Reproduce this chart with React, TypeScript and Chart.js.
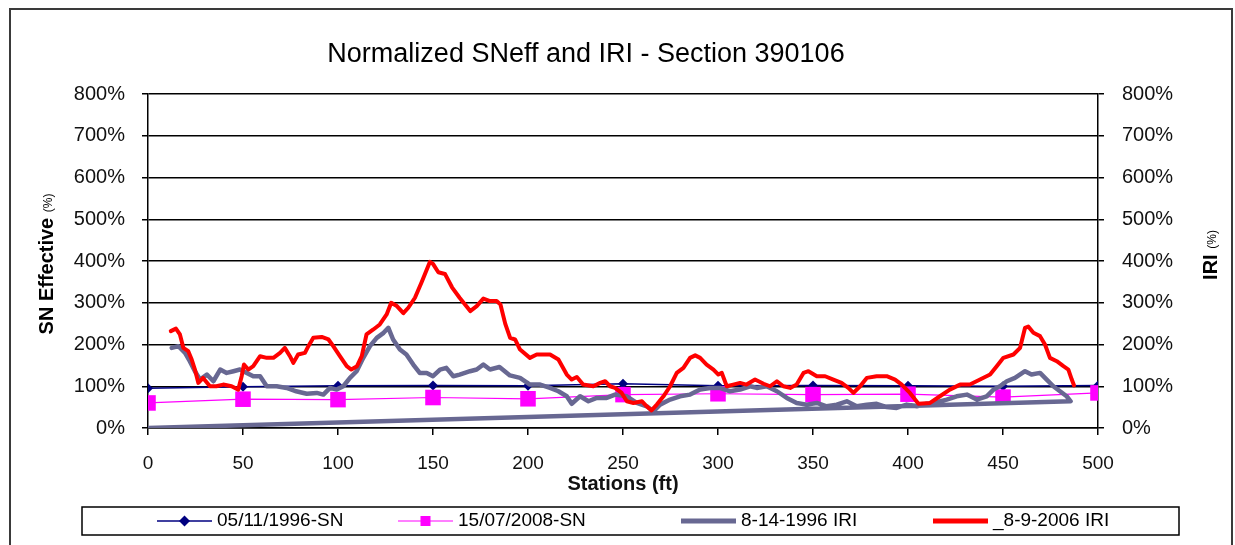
import React, { useEffect, useRef } from 'react';
import { Chart, registerables } from 'chart.js';

Chart.register(...registerables);

// ---------- text ----------
const chartTitle = 'Normalized SNeff and IRI - Section 390106';
const xAxisTitle = 'Stations (ft)';
const yLeftTitle = ['SN Effective ', '(%)'];
const yRightTitle = ['IRI ', '(%)'];
const seriesLabels = ['05/11/1996-SN', '15/07/2008-SN', '8-14-1996 IRI', '_8-9-2006 IRI'];

// ---------- axes ----------
const xMin = 0;
const xMax = 500;
const xStep = 50;
const yMin = 0;
const yMax = 800;
const yStep = 100;

// ---------- SN series (%), at stations ----------
const snStations = [0, 50, 100, 150, 200, 250, 300, 350, 400, 450, 500];
const sn1996Values = [95, 99, 101, 102, 101, 106, 101, 102, 101, 100, 102];
const sn2008Values = [60, 69, 68, 73, 70, 80, 82, 80, 81, 74, 84];

// ---------- IRI 1996 (%) ----------
const iri1996Stations = [
  12.5, 16, 19.5, 22, 24.7, 27.4, 31, 34.4, 38, 41.4, 45, 48.4, 52, 55.4, 59, 62.5, 67.7, 73, 78, 83.5,
  88.8, 92.3, 95.8, 99.3, 102.8, 106.3, 109.8, 113.3, 116.8, 120.4, 124, 126.5, 129, 132.6, 136, 139.6,
  143, 146.7, 150, 153.7, 157, 160.7, 164, 169.5, 173, 176.5, 180, 185, 190.5, 195.8, 201, 206.4, 211.6,
  216, 220.4, 223, 227.4, 231.8, 236.2, 241.4, 245.8, 252, 257.2, 262.5, 266, 269.5, 274.8, 280, 285.3,
  290.6, 295.8, 301, 306.3, 311.6, 316.9, 320.4, 325.6, 331, 336.2, 341.4, 346.7, 352, 357.2, 362.5,
  367.8, 373, 378.3, 383.5, 388.8, 394, 399.3, 404.6, 410, 413.3, 420.4, 425.6, 431, 436.2, 441.4, 445,
  448.4, 452, 456.3, 461.6, 465, 469.5, 473, 476.5, 480, 483.5, 485.6, 0,
];
const iri1996Values = [
  192, 196, 180, 160, 136, 116, 128, 112, 140, 132, 136, 140, 132, 124, 124, 100, 100, 96, 88, 82,
  84, 80, 96, 92, 100, 120, 136, 168, 196, 216, 228, 240, 212, 188, 176, 152,
  132, 132, 124, 140, 144, 124, 128, 136, 140, 152, 140, 146, 126, 120, 104, 104, 96,
  88, 76, 58, 76, 64, 72, 72, 80, 76, 60, 52, 40, 56, 68, 76, 80,
  92, 96, 96, 88, 92, 100, 96, 100, 88, 72, 60, 56, 60, 52, 56,
  64, 52, 56, 58, 50, 48, 56, 52, 58, 60, 68, 76, 80, 68, 76, 92,
  100, 112, 120, 136, 128, 132, 116, 100, 88, 76, 64, 0,
];

// ---------- IRI 2006 (%) ----------
const iri2006Stations = [
  12, 14.7, 16.8, 18.6, 21.2, 23, 24.7, 26.5, 29, 32.6, 36, 39.6, 44, 47.5, 49.3, 50.5, 52.8, 55.4, 59,
  62.5, 66, 69.5, 72, 74.7, 76.5, 79, 82.6, 84.4, 87, 91.4, 95, 97.5, 101, 104.6, 107, 110, 112.5, 115,
  118.6, 122, 125.6, 128, 131, 134.4, 137, 140.5, 144, 148.4, 150, 152.8, 156.3, 160, 164, 169.6, 173,
  176.5, 180, 183.5, 185.5, 188, 190.6, 193.2, 195.8, 201, 204.6, 211.6, 216, 220.4, 223, 225.7, 229,
  234.4, 238, 240.6, 243.2, 245.8, 249.3, 252, 255.5, 260, 262.5, 265, 267.8, 271.3, 274.8, 278.3, 281.8,
  285.3, 288, 290.6, 294, 297.6, 300.2, 302, 304.6, 308, 311.6, 315, 319.5, 324, 327.4, 331, 334.4, 338,
  341.4, 345, 347.6, 352, 356.4, 360.7, 365, 368.6, 371.3, 374.8, 378.3, 383.5, 388.8, 393.2, 396.7, 401,
  405.5, 411.6, 416.8, 422, 427.4, 432.6, 437.9, 443.2, 446.7, 450.2, 455.5, 459, 461.6, 463.3, 466,
  469.5, 472.1, 474.7, 478.3, 481.8, 484.4, 486.2, 487.4,
];
const iri2006Values = [
  232, 238, 224, 192, 184, 164, 140, 108, 120, 100, 100, 104, 100, 92, 124, 152, 140, 148, 172,
  168, 168, 180, 192, 172, 156, 176, 180, 196, 216, 218, 212, 196, 172, 148, 140, 148, 172, 224,
  236, 248, 272, 300, 292, 275, 288, 312, 349, 398, 393, 373, 369, 337, 312, 280, 292,
  310, 304, 304, 296, 250, 216, 212, 188, 168, 176, 176, 164, 128, 116, 122, 104,
  100, 108, 112, 100, 96, 84, 64, 60, 64, 52, 42, 56, 76, 100, 132, 144,
  168, 174, 168, 152, 140, 128, 132, 100, 104, 108, 104, 116, 106, 100, 112, 100, 96,
  104, 132, 136, 124, 124, 116, 108, 96, 84, 100, 120, 124, 124, 116, 104, 84,
  58, 60, 76, 92, 104, 104, 116, 128, 148, 168, 176, 192, 240, 243, 228,
  220, 200, 168, 160, 148, 140, 116, 102,
];

const FONT = '"Liberation Sans", Arial, Helvetica, sans-serif';

const toPoints = (xs: number[], ys: number[]) => xs.map((x, i) => ({ x, y: ys[i] }));

const decorPlugin = {
  id: 'decor',
  beforeDraw(chart: any) {
    const { ctx, width, height } = chart;
    ctx.save();
    ctx.fillStyle = '#ffffff';
    ctx.fillRect(0, 0, width, height);
    ctx.restore();
  },
  afterDraw(chart: any) {
    const { ctx, width, height, chartArea } = chart;
    ctx.save();
    // outer chart frame
    ctx.strokeStyle = '#3a3a3a';
    ctx.lineWidth = 2;
    ctx.strokeRect(10, 9, width - 13, height + 20);

    // title
    ctx.fillStyle = '#000';
    ctx.font = `27px ${FONT}`;
    ctx.textAlign = 'center';
    ctx.textBaseline = 'middle';
    ctx.fillText(chartTitle, 586, 55);

    // rotated axis titles
    const drawRot = (parts: string[], baseX: number, cy: number) => {
      ctx.save();
      ctx.translate(baseX, cy);
      ctx.rotate(-Math.PI / 2);
      ctx.textAlign = 'left';
      ctx.textBaseline = 'alphabetic';
      ctx.font = `bold 20px ${FONT}`;
      const w1 = ctx.measureText(parts[0]).width;
      ctx.font = `12px ${FONT}`;
      const w2 = ctx.measureText(parts[1]).width;
      const start = -(w1 + w2) / 2;
      ctx.font = `bold 20px ${FONT}`;
      ctx.fillText(parts[0], start, 0);
      ctx.font = `12px ${FONT}`;
      ctx.fillText(parts[1], start + w1, -1);
      ctx.restore();
    };
    const cy = (chartArea.top + chartArea.bottom) / 2;
    drawRot(yLeftTitle, 53, cy + 3);
    drawRot(yRightTitle, 1217, cy - 6);

    // legend
    const box = { left: 82, top: 507, right: 1179, bottom: 535 };
    ctx.strokeStyle = '#000';
    ctx.lineWidth = 1.5;
    ctx.strokeRect(box.left, box.top, box.right - box.left, box.bottom - box.top);
    const starts = [157, 398, 681, 933];
    const lineLen = 55;
    const ly = (box.top + box.bottom) / 2;
    chart.data.datasets.forEach((ds: any, i: number) => {
      const sx = starts[i];
      ctx.strokeStyle = ds.borderColor;
      ctx.lineWidth = ds.legendLineWidth || ds.borderWidth;
      ctx.lineCap = 'butt';
      ctx.beginPath();
      ctx.moveTo(sx, ly);
      ctx.lineTo(sx + lineLen, ly);
      ctx.stroke();
      const mx = sx + lineLen / 2;
      ctx.fillStyle = ds.backgroundColor;
      if (ds.pointStyle === 'rectRot' && ds.pointRadius > 0) {
        const r = 5.5;
        ctx.beginPath();
        ctx.moveTo(mx - r, ly);
        ctx.lineTo(mx, ly - r);
        ctx.lineTo(mx + r, ly);
        ctx.lineTo(mx, ly + r);
        ctx.closePath();
        ctx.fill();
      } else if (ds.pointStyle === 'rect' && ds.pointRadius > 0) {
        const s = 10;
        ctx.fillRect(mx - s / 2, ly - s / 2, s, s);
      }
      ctx.fillStyle = '#000';
      ctx.font = `19px ${FONT}`;
      ctx.textAlign = 'left';
      ctx.textBaseline = 'middle';
      ctx.fillText(ds.label, sx + lineLen + 5, ly);
    });
    ctx.restore();
  },
};

export default function App() {
  const canvasRef = useRef<HTMLCanvasElement | null>(null);

  useEffect(() => {
    if (!canvasRef.current) return;
    const tickFont = { family: FONT, size: 20 };
    const chart = new Chart(canvasRef.current, {
      type: 'line',
      data: {
        datasets: [
          {
            label: seriesLabels[0],
            data: toPoints(snStations, sn1996Values),
            borderColor: '#000080',
            backgroundColor: '#000080',
            borderWidth: 1.5,
            pointStyle: 'rectRot',
            pointRadius: 5,
            pointBorderWidth: 0,
            yAxisID: 'y',
            order: 3,
          } as any,
          {
            label: seriesLabels[1],
            data: toPoints(snStations, sn2008Values),
            borderColor: '#FF00FF',
            backgroundColor: '#FF00FF',
            borderWidth: 1.2,
            pointStyle: 'rect',
            pointRadius: 11,
            pointBorderWidth: 0,
            yAxisID: 'y',
            order: 2,
          } as any,
          {
            label: seriesLabels[2],
            data: toPoints(iri1996Stations, iri1996Values),
            borderColor: '#686892',
            backgroundColor: '#686892',
            borderWidth: 4.5,
            legendLineWidth: 5,
            pointRadius: 0,
            borderJoinStyle: 'round',
            borderCapStyle: 'round',
            yAxisID: 'y1',
            order: 1,
          } as any,
          {
            label: seriesLabels[3],
            data: toPoints(iri2006Stations, iri2006Values),
            borderColor: '#FF0000',
            backgroundColor: '#FF0000',
            borderWidth: 4,
            legendLineWidth: 5,
            pointRadius: 0,
            borderJoinStyle: 'round',
            borderCapStyle: 'round',
            yAxisID: 'y1',
            order: 0,
          } as any,
        ],
      },
      options: {
        animation: false,
        responsive: false,
        devicePixelRatio: 1,
        events: [],
        layout: { padding: { top: 94, left: 0, right: 0, bottom: 0 } },
        elements: { line: { tension: 0 } },
        plugins: {
          legend: { display: false },
          title: { display: false },
          tooltip: { enabled: false },
        },
        scales: {
          x: {
            type: 'linear',
            min: xMin,
            max: xMax,
            ticks: { stepSize: xStep, font: { family: FONT, size: 19 }, color: '#111', padding: 17, maxRotation: 0 },
            grid: { drawOnChartArea: false, drawTicks: true, tickLength: 7, color: '#000', lineWidth: 1.5 },
            border: { display: true, color: '#000', width: 1.5 },
            title: {
              display: true,
              text: xAxisTitle,
              color: '#111',
              font: { family: FONT, size: 20, weight: 'bold' },
              padding: { top: 0, bottom: 49 },
            },
            afterFit: (s: any) => {
              s.height = 117;
            },
          },
          y: {
            type: 'linear',
            position: 'left',
            min: yMin,
            max: yMax,
            ticks: { stepSize: yStep, font: tickFont, color: '#111', padding: 17, callback: (v: any) => `${v}%` },
            grid: { color: '#000', lineWidth: 1.5, tickLength: 6, drawTicks: true },
            border: { display: true, color: '#000', width: 1.5 },
            afterFit: (s: any) => {
              s.width = 148;
            },
          },
          y1: {
            type: 'linear',
            position: 'right',
            min: yMin,
            max: yMax,
            ticks: { stepSize: yStep, font: tickFont, color: '#111', padding: 18, callback: (v: any) => `${v}%` },
            grid: { drawOnChartArea: false, color: '#000', lineWidth: 1.5, tickLength: 6, drawTicks: true },
            border: { display: true, color: '#000', width: 1.5 },
            afterFit: (s: any) => {
              s.width = 137;
            },
          },
        },
      } as any,
      plugins: [decorPlugin],
    });
    return () => chart.destroy();
  }, []);

  return (
    <div style={{ position: 'absolute', left: 0, top: 0, width: 1235, height: 545, background: '#fff' }}>
      <canvas ref={canvasRef} width={1235} height={545} style={{ width: 1235, height: 545, display: 'block' }} />
    </div>
  );
}
